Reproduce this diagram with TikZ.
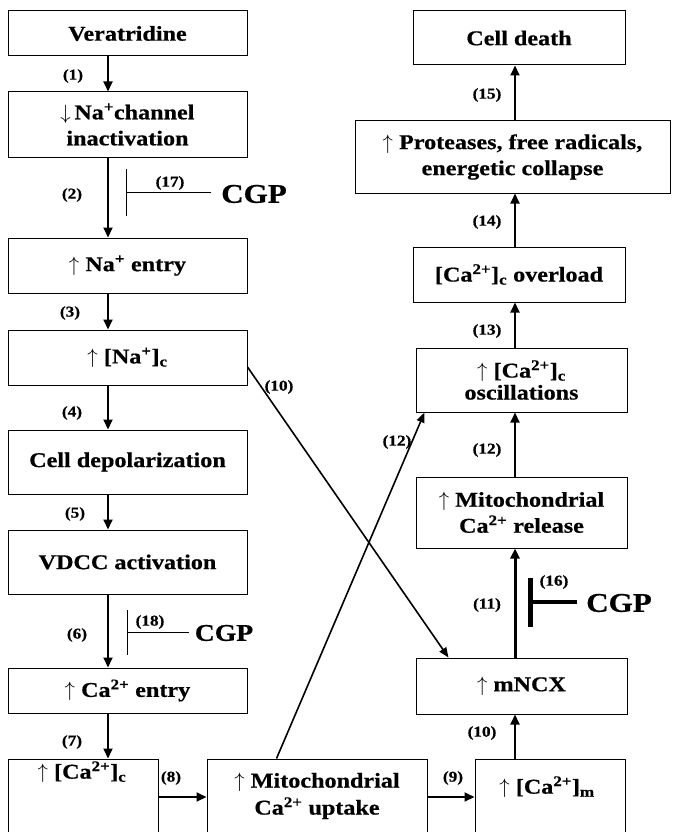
\documentclass[tikz,border=0pt]{standalone}
\usepackage{fontspec}
\setmainfont{Liberation Serif}[FakeStretch=1.15,BoldFeatures={FakeBold=0.6}]
\usetikzlibrary{arrows.meta}
\newcommand\up{$\uparrow$}
\newcommand\dn{$\downarrow$}
\begin{document}
\begin{tikzpicture}[x=1pt,y=-1pt,
 box/.style={draw, line width=1pt, inner sep=0pt, align=center, font=\bfseries\fontsize{21}{26}\selectfont},
 txt/.style={inner sep=0pt, align=center, font=\bfseries\fontsize{21}{27}\selectfont},
 num/.style={inner sep=0pt, font=\bfseries\fontsize{15}{17}\selectfont},
 cgp/.style={inner sep=0pt, font=\bfseries\fontsize{27}{30}\selectfont},
 arr/.style={line width=1.8pt, -{Triangle[length=10pt,width=9pt]}},
 diag/.style={line width=1.6pt, -{Triangle[length=10pt,width=8pt]}},
]
\clip (0,0) rectangle (672,832);
\newcommand\bx[6]{\node[box, minimum width={(#4)-(#2)}, minimum height={(#5)-(#3)}] (#1) at ({((#2)+(#4))/2},{((#3)+(#5))/2}) {#6};}
% left column
\bx{ver}{8}{11}{247}{56}{Veratridine}
\bx{nach}{8}{92}{247}{157}{\dn\,Na\textsuperscript{+}channel\\inactivation}
\bx{naen}{8}{238}{247}{293}{\up\ Na\textsuperscript{+} entry}
\bx{nac}{8}{330}{247}{385}{\up\ [Na\textsuperscript{+}]\textsubscript{c}}
\bx{dep}{8}{430}{247}{494}{Cell depolarization}
\bx{vdcc}{8}{530}{247}{594}{VDCC activation}
\bx{caen}{8}{668}{247}{713}{\up\ Ca\textsuperscript{2+} entry}
\bx{cac}{8}{759}{158}{850}{}
\bx{mup}{207}{759}{427}{850}{}
\bx{cam}{475}{759}{625}{850}{}
\node[txt] (cact) at (82,772) {\up\ [Ca\textsuperscript{2+}]\textsubscript{c}};
\node[txt] (mupt) at (317,796) {\up\ Mitochondrial\\Ca\textsuperscript{2+} uptake};
\node[txt] (camt) at (547,787) {\up\ [Ca\textsuperscript{2+}]\textsubscript{m}};
% right column
\bx{death}{413}{11}{625}{65}{Cell death}
\bx{prot}{355}{121}{670}{193}{\up\ Proteases, free radicals,\\energetic collapse}
\bx{over}{413}{247}{625}{302}{[Ca\textsuperscript{2+}]\textsubscript{c} overload}
\bx{osc}{416}{348}{627}{412}{\up\ [Ca\textsuperscript{2+}]\textsubscript{c}\\[-4pt]oscillations}
\bx{rel}{416}{477}{627}{548}{\up\ Mitochondrial\\Ca\textsuperscript{2+} release}
\bx{mncx}{416}{658}{627}{714}{\up\ mNCX}
% column coordinates
\coordinate (ax) at (108,0);
\coordinate (bx) at (515,0);
\coordinate (ry) at (0,797);
% left arrows
\draw[arr] (ver.south -| ax) -- (nach.north -| ax);
\draw[arr] (nach.south -| ax) -- (naen.north -| ax);
\draw[arr] (naen.south -| ax) -- (nac.north -| ax);
\draw[arr] (nac.south -| ax) -- (dep.north -| ax);
\draw[arr] (dep.south -| ax) -- (vdcc.north -| ax);
\draw[arr] (vdcc.south -| ax) -- (caen.north -| ax);
\draw[arr] (caen.south -| ax) -- (cac.north -| ax);
\draw[arr] (cac.east |- ry) -- (mup.west |- ry);
\draw[arr] (mup.east |- ry) -- (cam.west |- ry);
% right arrows
\draw[arr] (cam.north -| bx) -- (mncx.south -| bx);
\draw[arr, line width=3pt] (mncx.north -| bx) -- (rel.south -| bx);
\draw[arr] (rel.north -| bx) -- (osc.south -| bx);
\draw[arr] (osc.north -| bx) -- (over.south -| bx);
\draw[arr] (over.north -| bx) -- (prot.south -| bx);
\draw[arr] (prot.north -| bx) -- (death.south -| bx);
% diagonals
\draw[diag] ([yshift=-9.5pt]nac.east) -- ([xshift=33pt]mncx.north west);
\draw[diag] ([xshift=70pt]mup.north west) -- ([xshift=9pt]osc.south west);
% inhibitors
\coordinate (i17) at (126,192);
\coordinate (i18) at (127,632);
\coordinate (i16) at (528,602);
\node[cgp] (cgp17) at (254,194) {CGP};
\node[cgp, font=\bfseries\fontsize{24}{28}\selectfont] (cgp18) at (224,633) {CGP};
\node[cgp] (cgp16) at (619,603) {CGP};
\draw[line width=1pt, shorten <=10pt, -{Bar[width=47pt,line width=1.2pt]}] (cgp17.west |- i17) -- (i17);
\draw[line width=1pt, shorten <=6pt, -{Bar[width=45pt,line width=1.2pt]}] (cgp18.west |- i18) -- (i18);
\draw[line width=3.5pt, shorten <=9pt, -{Bar[width=49pt,line width=4.5pt]}] (cgp16.west |- i16) -- (i16);
% step labels
\node[num] (n1) at (73,76) {(1)};
\node[num] (n2) at (72,195) {(2)};
\node[num] (n17) at (170,183) {(17)};
\node[num] (n3) at (70,313) {(3)};
\node[num] (n4) at (72,413) {(4)};
\node[num] (n5) at (75,514) {(5)};
\node[num] (n6) at (77,635) {(6)};
\node[num] (n18) at (150,622) {(18)};
\node[num] (n7) at (72,742) {(7)};
\node[num] (n8) at (171,778) {(8)};
\node[num] (n9) at (453,778) {(9)};
\node[num] (n10b) at (482,733) {(10)};
\node[num] (n11) at (487,605) {(11)};
\node[num] (n16) at (554,582) {(16)};
\node[num] (n12b) at (487,450) {(12)};
\node[num] (n12a) at (397,442) {(12)};
\node[num] (n13) at (487,331) {(13)};
\node[num] (n14) at (487,222) {(14)};
\node[num] (n15) at (487,95) {(15)};
\node[num] (n10a) at (279,387) {(10)};
\end{tikzpicture}
\end{document}
